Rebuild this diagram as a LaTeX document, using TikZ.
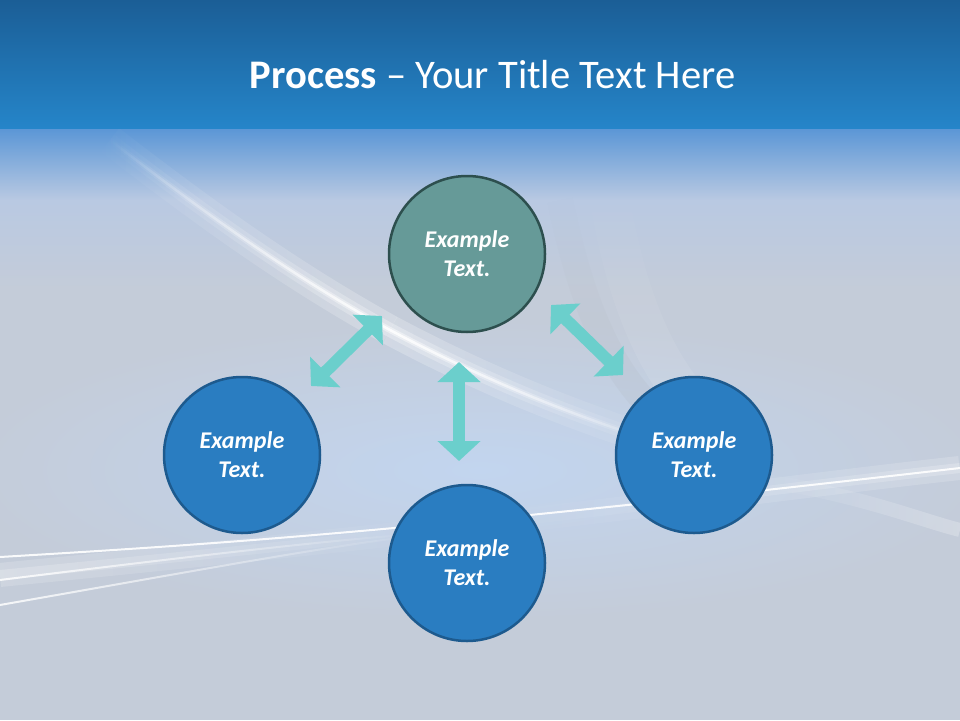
\documentclass[tikz,border=0pt]{standalone}
\usepackage{fontspec}
\setmainfont{Carlito}
\usetikzlibrary{arrows.meta,fadings}
\definecolor{hdrtop}{HTML}{1B5E96}
\definecolor{hdrbot}{HTML}{2585C9}
\definecolor{hdrfade}{HTML}{5A96D6}
\definecolor{bgmid}{HTML}{B9C9E2}
\definecolor{bgmain}{HTML}{C4CCD9}
\definecolor{bgblue}{HTML}{C2D5EF}
\definecolor{tealfill}{HTML}{669A98}
\definecolor{tealline}{HTML}{2D4F4E}
\definecolor{bluefill}{HTML}{2A7DC1}
\definecolor{blueline}{HTML}{1D5A8E}
\definecolor{arrowcol}{HTML}{6BCFCC}
\tikzfading[name=leftfade, left color=transparent!100, right color=transparent!0]
\tikzfading[name=rightfade, left color=transparent!0, right color=transparent!100]
\begin{document}
\begin{tikzpicture}[x=1pt,y=-1pt,
  stepcircle/.style={circle, minimum size=156pt, inner sep=0pt, line width=2.5pt, text=white,
    font=\fontsize{24}{29}\selectfont\bfseries\itshape, align=center},
  tealstep/.style={stepcircle, fill=tealfill, draw=tealline},
  bluestep/.style={stepcircle, fill=bluefill, draw=blueline},
  dbl/.style={arrowcol, line width=12pt,
    {Triangle[width=42pt,length=20pt]}-{Triangle[width=42pt,length=20pt]}},
  glow/.style={white}
]
\useasboundingbox (0,0) rectangle (960,720);
% background
\fill[bgmain] (0,0) rectangle (960,720);
\shade[inner color=bgblue, outer color=bgmain] (480,470) ellipse (520pt and 150pt);
\shade[top color=hdrfade, bottom color=bgmid] (0,128) rectangle (960,200);
\shade[top color=bgmid, bottom color=bgmain] (0,200) rectangle (960,290);
% faint curved shadow on the right
\draw[gray!50!bgmain, opacity=0.15, line width=26pt, path fading=north] (560,200) .. controls (585,320) and (620,400) .. (700,445);
\draw[white, opacity=0.12, line width=40pt, path fading=north] (610,200) .. controls (630,320) and (670,400) .. (740,445);
% diagonal streak (fade in, then fade out)
\foreach \w/\o in {30/0.25, 14/0.3, 6/0.45, 2.5/0.85}{
  \draw[glow, opacity=\o, line width=\w pt, path fading=leftfade] (110,140) .. controls (220,225) and (300,280) .. (390,330);
  \draw[glow, opacity=\o, line width=\w pt, path fading=rightfade] (390,330) .. controls (480,378) and (580,420) .. (690,452);
}
% bottom streaks
\foreach \w/\o in {24/0.18, 10/0.22}{
  \draw[glow, opacity=\o, line width=\w pt, path fading=rightfade] (0,575) .. controls (150,560) and (300,545) .. (480,525);
  \draw[glow, opacity=\o, line width=\w pt, path fading=leftfade] (480,525) .. controls (700,500) and (850,480) .. (960,468);
}
\draw[glow, opacity=0.9, line width=2pt] (0,557) .. controls (200,545) and (400,533) .. (960,468);
\draw[glow, opacity=0.85, line width=2pt, path fading=rightfade] (0,580) .. controls (200,555) and (350,538) .. (420,534);
\draw[glow, opacity=0.85, line width=2pt, path fading=rightfade] (0,605) .. controls (200,570) and (350,542) .. (420,536);
\draw[glow, opacity=0.25, line width=14pt, path fading=leftfade] (760,480) .. controls (860,495) and (920,520) .. (960,530);
% header
\shade[top color=hdrtop, bottom color=hdrbot] (0,0) rectangle (960,128);
\node[text=white, font=\fontsize{40.6}{48}\selectfont] (title) at (492.5,75)
  {\textbf{Process} – Your Title Text Here};
% circles
\node[tealstep] (top) at (467,254) {Example\\Text.};
\node[bluestep] (left) at (242,455) {Example\\Text.};
\node[bluestep] (right) at (694,455) {Example\\Text.};
\node[bluestep] (bottom) at (467,563) {Example\\Text.};
% arrows
\coordinate (la1) at (311,386);
\coordinate (la2) at (382,316);
\coordinate (va1) at (459,362);
\coordinate (va2) at (459,461);
\coordinate (ra1) at (551,305);
\coordinate (ra2) at (623,375);
\draw[dbl] (la1) -- (la2);
\draw[dbl] (va1) -- (va2);
\draw[dbl] (ra1) -- (ra2);
\end{tikzpicture}
\end{document}
